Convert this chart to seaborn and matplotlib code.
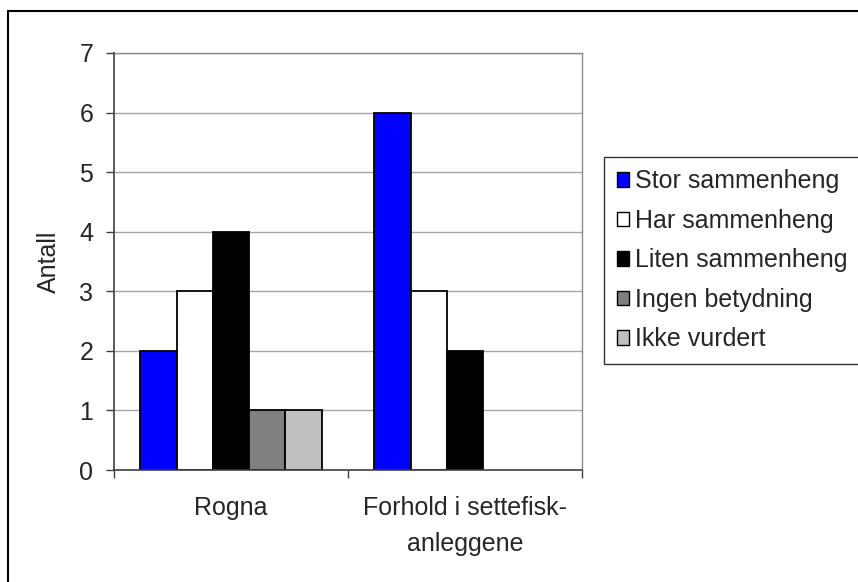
import matplotlib
matplotlib.use("Agg")
import matplotlib.pyplot as plt
import seaborn as sns
import pandas as pd
import numpy as np
from matplotlib.patches import Patch
from matplotlib.lines import Line2D

categories = ["Rogna", "Forhold i settefisk-\nanleggene"]
series = ["Stor sammenheng", "Har sammenheng", "Liten sammenheng", "Ingen betydning", "Ikke vurdert"]
values = {
    "Stor sammenheng": [2, 6],
    "Har sammenheng": [3, 3],
    "Liten sammenheng": [4, 2],
    "Ingen betydning": [1, np.nan],
    "Ikke vurdert": [1, np.nan],
}
colors = ["#0000ff", "#ffffff", "#000000", "#808080", "#c0c0c0"]
yticks = [0, 1, 2, 3, 4, 5, 6, 7]

rows = []
for s in series:
    for c, v in zip(categories, values[s]):
        rows.append({"cat": c, "series": s, "val": v})
df = pd.DataFrame(rows)

sns.set_style("white")
plt.rcParams["font.family"] = ["Liberation Sans", "DejaVu Sans"]
FS = 18

W, H = 858, 582
fig = plt.figure(figsize=(W / 100, H / 100), dpi=100)
ax = fig.add_axes([114 / W, 1 - 470 / H, (582 - 114) / W, (470 - 53) / H])

sns.barplot(data=df, x="cat", y="val", hue="series", order=categories,
            hue_order=series, palette=colors, width=0.774, gap=0,
            edgecolor="black", linewidth=1.3, saturation=1, ax=ax,
            legend=False, zorder=3)

ax.set_xlim(-0.5, 1.5)
ax.set_ylim(0, 7)
ax.set_yticks(yticks)
ax.set_yticklabels([str(t) for t in yticks], fontsize=FS)
for t in yticks[1:]:
    ax.axhline(t, color="#a6a6a6", lw=1, zorder=1)

ax.set_xticks([0, 1])
ax.set_xticklabels(categories, fontsize=FS, linespacing=1.6)
ax.tick_params(axis="x", which="major", bottom=True, length=0, pad=19)
ax.set_xticks([-0.5, 0.5, 1.5], minor=True)
ax.tick_params(axis="x", which="minor", bottom=True, length=6, width=1,
               color="#404040", direction="out")
ax.tick_params(axis="y", left=True, length=6, width=1, color="#404040",
               direction="out", pad=9)
ax.set_xlabel("")
ax.set_ylabel("Antall", fontsize=FS, labelpad=13)

for sp in ["top", "right"]:
    ax.spines[sp].set_color("#8c8c8c")
    ax.spines[sp].set_linewidth(1)
for sp in ["left", "bottom"]:
    ax.spines[sp].set_color("#404040")
    ax.spines[sp].set_linewidth(1.2)
    ax.spines[sp].set_zorder(4)

handles = [Patch(facecolor=c, edgecolor="black", linewidth=1) for c in colors]
leg = fig.legend(handles, series, loc="upper left",
                 bbox_to_anchor=(604 / W, 1 - 157 / H), fontsize=FS,
                 frameon=True, fancybox=False, edgecolor="black",
                 handlelength=0.5, handleheight=0.5, handletextpad=0.25,
                 labelspacing=0.62, borderpad=0.5, borderaxespad=0)
leg.get_frame().set_linewidth(1)

fig.add_artist(Line2D([8 / W, 8 / W], [0, 1 - 11 / H], transform=fig.transFigure,
                      color="black", lw=1.5))
fig.add_artist(Line2D([8 / W, 1], [1 - 11 / H, 1 - 11 / H], transform=fig.transFigure,
                      color="black", lw=1.5))

fig.savefig("out.png", dpi=100)
